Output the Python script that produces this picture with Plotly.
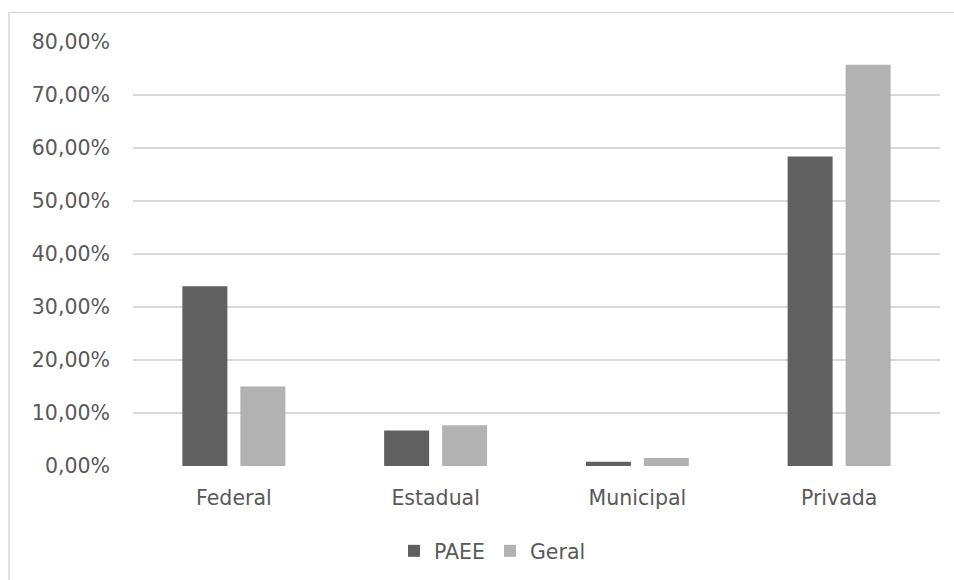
import plotly.graph_objects as go

categorias = ["Federal", "Estadual", "Municipal", "Privada"]
paee = [33.9, 6.7, 0.8, 58.4]
geral = [15.0, 7.7, 1.5, 75.7]
ticks_y = [0, 10, 20, 30, 40, 50, 60, 70, 80]
rotulos_y = [f"{v:.2f}".replace(".", ",") + "%" for v in ticks_y]

W, H = 954, 580
ML, MR, MT, MB = 133, 14, 42, 114
pw = W - ML - MR
ph = H - MT - MB

fig = go.Figure()
fig.add_trace(go.Bar(name="PAEE", x=categorias, y=paee, marker_color="#606060",
                     marker_line_width=0))
fig.add_trace(go.Bar(name="Geral", x=categorias, y=geral, marker_color="#b2b2b2",
                     marker_line_width=0))


def px_x(p):
    return (p - ML) / pw


def px_y(p):
    return (H - MB - p) / ph


# outer chart frame (extends past the right and bottom edges)
fig.add_shape(type="rect", xref="paper", yref="paper",
              x0=px_x(9), x1=px_x(970), y0=px_y(12.5), y1=px_y(600),
              line=dict(color="#d9d9d9", width=1.5), fillcolor="rgba(0,0,0,0)",
              layer="below")

fig.update_layout(
    width=W, height=H,
    margin=dict(l=ML, r=MR, t=MT, b=MB, autoexpand=False),
    paper_bgcolor="white", plot_bgcolor="white",
    barmode="group", bargap=0.425, bargroupgap=0.224,
    font=dict(family="DejaVu Sans", size=20.5, color="#595959"),
    showlegend=True,
    legend=dict(orientation="h", x=px_x(394), xanchor="left", y=px_y(551), yanchor="middle",
                font=dict(size=20.5, color="#595959"), itemwidth=30,
                bgcolor="rgba(0,0,0,0)", traceorder="normal"),
    xaxis=dict(showgrid=False, showline=False, zeroline=False, ticks="",
               ticklabelstandoff=17),
    yaxis=dict(range=[0, 80], tickvals=ticks_y, ticktext=rotulos_y,
               showgrid=True, gridcolor="#d9d9d9", gridwidth=1.5,
               zeroline=False, showline=False, ticks="", ticklabelstandoff=22),
)

fig.write_html("out.html")
